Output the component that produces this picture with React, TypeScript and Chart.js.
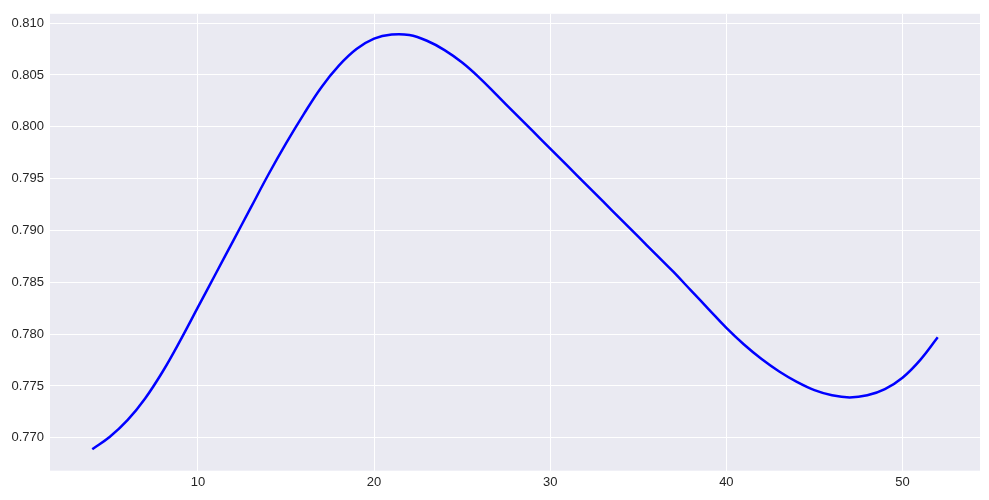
import React, { useEffect, useRef } from "react";
import { Chart, registerables } from "chart.js";

Chart.register(...registerables);

const xValues = [4, 5, 6, 7, 8, 9, 10, 11, 12, 13, 14, 15, 16, 17, 18, 19, 20, 21, 22, 23, 24, 25, 26, 27, 28, 29, 30, 31, 32, 33, 34, 35, 36, 37, 38, 39, 40, 41, 42, 43, 44, 45, 46, 47, 48, 49, 50, 51, 52];
const yValues = [
  0.7689, 0.7701, 0.7717, 0.7738, 0.7764, 0.7794, 0.7826, 0.7858, 0.789, 0.7922,
  0.7954, 0.7984, 0.8012, 0.8038, 0.8059, 0.8075, 0.8085, 0.8089, 0.80885, 0.8083,
  0.8074, 0.8062, 0.8047, 0.803, 0.8013, 0.7996, 0.7979, 0.7962, 0.7945, 0.7928,
  0.7911, 0.7894, 0.7877, 0.786, 0.7842, 0.7824, 0.7806, 0.779, 0.7776, 0.7764,
  0.7754, 0.7746, 0.7741, 0.7739, 0.7741, 0.7747, 0.7758, 0.7775, 0.7797,
];
const xTicks = [10, 20, 30, 40, 50];
const yTicks = [0.77, 0.775, 0.78, 0.785, 0.79, 0.795, 0.8, 0.805, 0.81];

const bgPlugin = {
  id: "plotBg",
  beforeDraw(chart: any) {
    const { ctx, chartArea } = chart;
    ctx.save();
    ctx.fillStyle = "#ffffff";
    ctx.fillRect(0, 0, chart.width, chart.height);
    ctx.fillStyle = "#EAEAF2";
    ctx.fillRect(chartArea.left, chartArea.top, chartArea.right - chartArea.left, chartArea.bottom - chartArea.top);
    ctx.restore();
  },
};

export default function App() {
  const ref = useRef<HTMLCanvasElement>(null);
  useEffect(() => {
    document.body.style.margin = "0";
    const c = new Chart(ref.current!, {
      type: "line",
      data: {
        datasets: [
          {
            data: xValues.map((x, i) => ({ x, y: yValues[i] })),
            borderColor: "#0000ff",
            borderWidth: 2.5,
            pointRadius: 0,
            fill: false,
            tension: 0.4,
          },
        ],
      },
      options: {
        animation: false,
        responsive: false,
        layout: { padding: { top: 9, right: 9, left: 0, bottom: 0 } },
        plugins: { legend: { display: false }, tooltip: { enabled: false } },
        scales: {
          x: {
            type: "linear",
            min: 1.6,
            max: 54.4,
            afterBuildTicks: (s: any) => {
              s.ticks = xTicks.map((v) => ({ value: v }));
            },
            afterFit: (s: any) => {
              s.height = 29.3;
            },
            grid: { color: "#ffffff", lineWidth: 1, drawTicks: false },
            border: { display: false },
            ticks: {
              padding: 4,
              color: "#262626",
              font: { family: "Liberation Sans", size: 13 },
              callback: (v: any) => String(v),
            },
          },
          y: {
            type: "linear",
            min: 0.76683,
            max: 0.8109,
            afterBuildTicks: (s: any) => {
              s.ticks = yTicks.map((v) => ({ value: v }));
            },
            afterFit: (s: any) => {
              s.width = 50;
            },
            grid: { color: "#ffffff", lineWidth: 1, drawTicks: false },
            border: { display: false },
            ticks: {
              padding: 6,
              color: "#262626",
              font: { family: "Liberation Sans", size: 13 },
              callback: (v: any) => Number(v).toFixed(3),
            },
          },
        },
      },
      plugins: [bgPlugin],
    } as any);
    return () => c.destroy();
  }, []);
  return (
    <div style={{ position: "absolute", left: 0, top: 0, width: 989, height: 500 }}>
      <canvas ref={ref} width={989} height={500} style={{ width: 989, height: 500 }} />
    </div>
  );
}
